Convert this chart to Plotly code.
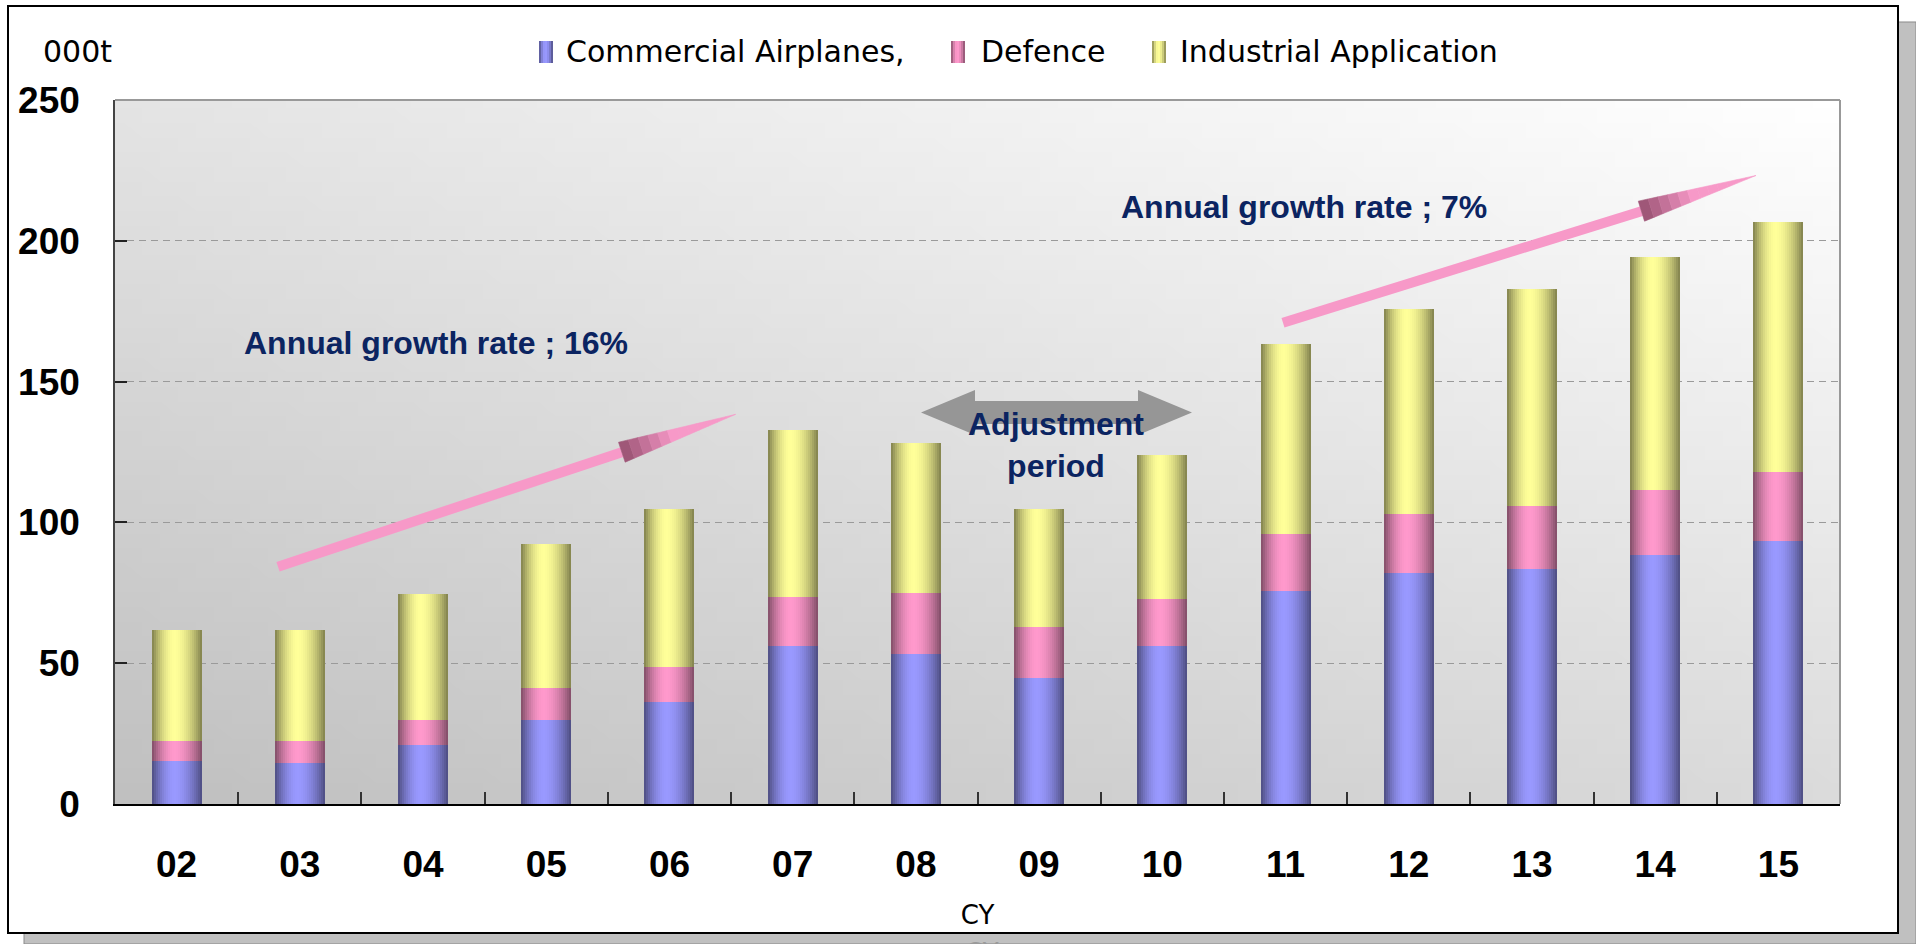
import math, zlib, struct, base64
import plotly.graph_objects as go

# ---------------- data ----------------
years = ["02", "03", "04", "05", "06", "07", "08", "09", "10", "11", "12", "13", "14", "15"]
commercial = [15.4, 14.7, 20.9, 30.0, 36.3, 56.2, 53.4, 44.9, 56.2, 75.7, 82.0, 83.4, 88.5, 93.4]
defence = [7.1, 7.5, 9.1, 11.3, 12.2, 17.4, 21.6, 18.0, 16.7, 20.2, 21.1, 22.5, 23.0, 24.5]
industrial = [39.4, 39.7, 44.6, 51.1, 56.3, 59.2, 53.2, 41.9, 51.0, 67.3, 72.6, 77.0, 82.6, 88.7]
series_names = ["Commercial Airplanes,", "Defence", "Industrial Application"]
y_ticks = [0, 50, 100, 150, 200, 250]

# ---------------- styling ----------------
series_values = [commercial, defence, industrial]
series_rgb = [(153, 153, 255), (255, 153, 204), (255, 255, 153)]
W, H = 1916, 944
L, R, T, B = 115, 76, 100, 140
PW, PH = W - L - R, H - T - B
NAVY = "#0b2461"


def fx(x):
    return (x - L) / PW


def fy(y):
    return (H - B - y) / PH


def shade(rgb, f):
    return "rgb(%d,%d,%d)" % tuple(min(255, round(c * f)) for c in rgb)


def profile(t):
    peak = 0.45
    d = (peak - t) / peak if t < peak else (t - peak) / (1 - peak)
    return 0.5 + 0.5 * (1 - d ** 1.8)


def png_uri(w, h, func):
    rows = []
    for j in range(h):
        row = bytearray([0])
        for i in range(w):
            row += bytes(func(i / (w - 1), 1 - j / (h - 1)))
        rows.append(bytes(row))
    raw = b"".join(rows)

    def chunk(t, d):
        c = struct.pack(">I", len(d)) + t + d
        return c + struct.pack(">I", zlib.crc32(t + d) & 0xFFFFFFFF)

    png = (b"\x89PNG\r\n\x1a\n" + chunk(b"IHDR", struct.pack(">IIBBBBB", w, h, 8, 2, 0, 0, 0))
           + chunk(b"IDAT", zlib.compress(raw, 9)) + chunk(b"IEND", b""))
    return "data:image/png;base64," + base64.b64encode(png).decode()


def bg_color(u, v):
    g = min(255, round(192 + 27 * u + 36 * v))
    return (g, g, g)


N_STRIPS = 25
BAR_W = 0.406

fig = go.Figure()
bases = [0.0] * len(years)
for name, vals, rgb in zip(series_names, series_values, series_rgb):
    for i in range(N_STRIPS):
        t = (i + 0.5) / N_STRIPS
        fig.add_trace(go.Bar(
            x=years, y=vals, base=list(bases),
            width=BAR_W / N_STRIPS, offset=-BAR_W / 2 + i * BAR_W / N_STRIPS,
            marker=dict(color=shade(rgb, profile(t)), line=dict(width=0)),
            name=name, legendgroup=name, showlegend=False, hoverinfo="skip"))
    bases = [b + v for b, v in zip(bases, vals)]

shapes = []


def poly(points, color, layer="above", line=None):
    path = "M " + " L ".join("%.5f,%.5f" % (fx(x), fy(y)) for x, y in points) + " Z"
    d = dict(type="path", path=path, xref="paper", yref="paper", fillcolor=color,
             line=line or dict(width=0), layer=layer)
    shapes.append(d)


# shadow and frame
poly([(1898, 22), (1916, 22), (1916, 944), (24, 944), (24, 933), (1898, 933)], "#c0c0c0",
     layer="below", line=dict(color="#8a8a8a", width=1))
shapes.append(dict(type="rect", xref="paper", yref="paper", x0=fx(8), x1=fx(1898), y0=fy(933), y1=fy(6),
                   line=dict(color="black", width=2), fillcolor="rgba(0,0,0,0)", layer="below"))
# top / right borders of plot area
shapes.append(dict(type="line", xref="paper", yref="paper", x0=0, x1=1, y0=1, y1=1,
                   line=dict(color="#999999", width=2), layer="above"))
shapes.append(dict(type="line", xref="paper", yref="paper", x0=1, x1=1, y0=0, y1=1,
                   line=dict(color="#999999", width=2), layer="above"))

# gray double arrow
poly([(921, 412.5), (975, 390), (975, 401), (1138, 401), (1138, 390), (1192, 412.5),
      (1138, 435), (1138, 424), (975, 424), (975, 435)], "#969696")


def pink_arrow(tail, tip, shaft_w=10, head_w=21, head_len=120):
    dx, dy = tip[0] - tail[0], tip[1] - tail[1]
    ln = math.hypot(dx, dy)
    ux, uy = dx / ln, dy / ln
    nx, ny = -uy, ux
    bx, by = tip[0] - ux * head_len, tip[1] - uy * head_len
    hs = shaft_w / 2
    poly([(tail[0] + nx * hs, tail[1] + ny * hs), (bx + nx * hs, by + ny * hs),
          (bx - nx * hs, by - ny * hs), (tail[0] - nx * hs, tail[1] - ny * hs)], "#f799c8")
    K = 12
    dark = (150, 80, 112)
    pink = (247, 153, 200)
    for k in range(K):
        s0, s1 = k / K, (k + 1) / K
        w0, w1 = head_w / 2 * (1 - s0), head_w / 2 * (1 - s1)
        p0 = (bx + ux * head_len * s0, by + uy * head_len * s0)
        p1 = (bx + ux * head_len * s1, by + uy * head_len * s1)
        m = min(1.0, (s0 + 0.5 / K) / 0.45)
        col = "rgb(%d,%d,%d)" % tuple(round(a + (b - a) * m) for a, b in zip(dark, pink))
        poly([(p0[0] + nx * w0, p0[1] + ny * w0), (p1[0] + nx * w1, p1[1] + ny * w1),
              (p1[0] - nx * w1, p1[1] - ny * w1), (p0[0] - nx * w0, p0[1] - ny * w0)], col,
             line=dict(color=col, width=0.6))


pink_arrow((278, 566.7), (735.7, 414.3))
pink_arrow((1283, 322.7), (1756, 175.5))

# legend swatches (manual legend)
sw_x = [539, 951, 1152]
txt_x = [566, 981, 1180]
for sx, rgb in zip(sw_x, series_rgb):
    n = 7
    for i in range(n):
        t = (i + 0.5) / n
        shapes.append(dict(type="rect", xref="paper", yref="paper",
                           x0=fx(sx + 14 * i / n), x1=fx(sx + 14 * (i + 1) / n),
                           y0=fy(63), y1=fy(41), fillcolor=shade(rgb, profile(t)),
                           line=dict(width=0), layer="above"))

annotations = []
for tx, name in zip(txt_x, series_names):
    annotations.append(dict(text=name, x=fx(tx - 2), y=fy(51), xref="paper", yref="paper",
                            xanchor="left", yanchor="middle", showarrow=False,
                            font=dict(family="DejaVu Sans", size=30, color="black")))
annotations.append(dict(text="000t", x=fx(41), y=fy(51), xref="paper", yref="paper",
                        xanchor="left", yanchor="middle", showarrow=False,
                        font=dict(family="DejaVu Sans", size=30, color="black")))
annotations.append(dict(text="Annual growth rate ; 16%", x=fx(242), y=fy(343), xref="paper", yref="paper",
                        xanchor="left", yanchor="middle", showarrow=False,
                        font=dict(family="Liberation Sans", size=32, color=NAVY, weight="bold")))
annotations.append(dict(text="Annual growth rate ; 7%", x=fx(1119), y=fy(207), xref="paper", yref="paper",
                        xanchor="left", yanchor="middle", showarrow=False,
                        font=dict(family="Liberation Sans", size=32, color=NAVY, weight="bold")))
annotations.append(dict(text="Adjustment<br>period", x=fx(1056), y=fy(444.5), xref="paper", yref="paper",
                        xanchor="center", yanchor="middle", showarrow=False, align="center",
                        font=dict(family="Liberation Sans", size=32, color=NAVY, weight="bold")))
annotations.append(dict(text="CY", x=fx(982), y=fy(936), xref="paper", yref="paper",
                        xanchor="center", yanchor="top", showarrow=False,
                        font=dict(family="DejaVu Sans", size=26, color="#9a9a9a")))

fig.update_layout(
    width=W, height=H, margin=dict(l=L, r=R, t=T, b=B, pad=0),
    paper_bgcolor="white", plot_bgcolor="rgba(0,0,0,0)",
    barmode="overlay", bargap=0, showlegend=False,
    shapes=shapes, annotations=annotations,
    images=[dict(source=png_uri(96, 48, bg_color), xref="paper", yref="paper", x=0, y=1,
                 sizex=1, sizey=1, sizing="stretch", layer="below")],
    xaxis=dict(type="category", range=[-0.5, len(years) - 0.5], showline=True, linecolor="black",
               linewidth=2, ticks="inside", tickson="boundaries", ticklen=12, tickwidth=1.5,
               tickcolor="#333333", showgrid=False, zeroline=False, ticklabelstandoff=27,
               tickfont=dict(family="Liberation Sans", size=37, color="black", weight="bold"),
               title=dict(text="CY", standoff=21, font=dict(family="DejaVu Sans", size=26, color="black"))),
    yaxis=dict(range=[0, 250], tickmode="array", tickvals=y_ticks, ticks="inside", ticklen=12,
               tickwidth=2, tickcolor="#222222", showline=True, linecolor="#444444", linewidth=1.5,
               showgrid=True, gridcolor="#9a9a9a", griddash="7px,5px", gridwidth=1, zeroline=False,
               ticklabelstandoff=26,
               tickfont=dict(family="Liberation Sans", size=37, color="black", weight="bold")),
)

fig.write_html("out.html", config={"displayModeBar": False},
               post_script="document.body.style.margin='0px';")
